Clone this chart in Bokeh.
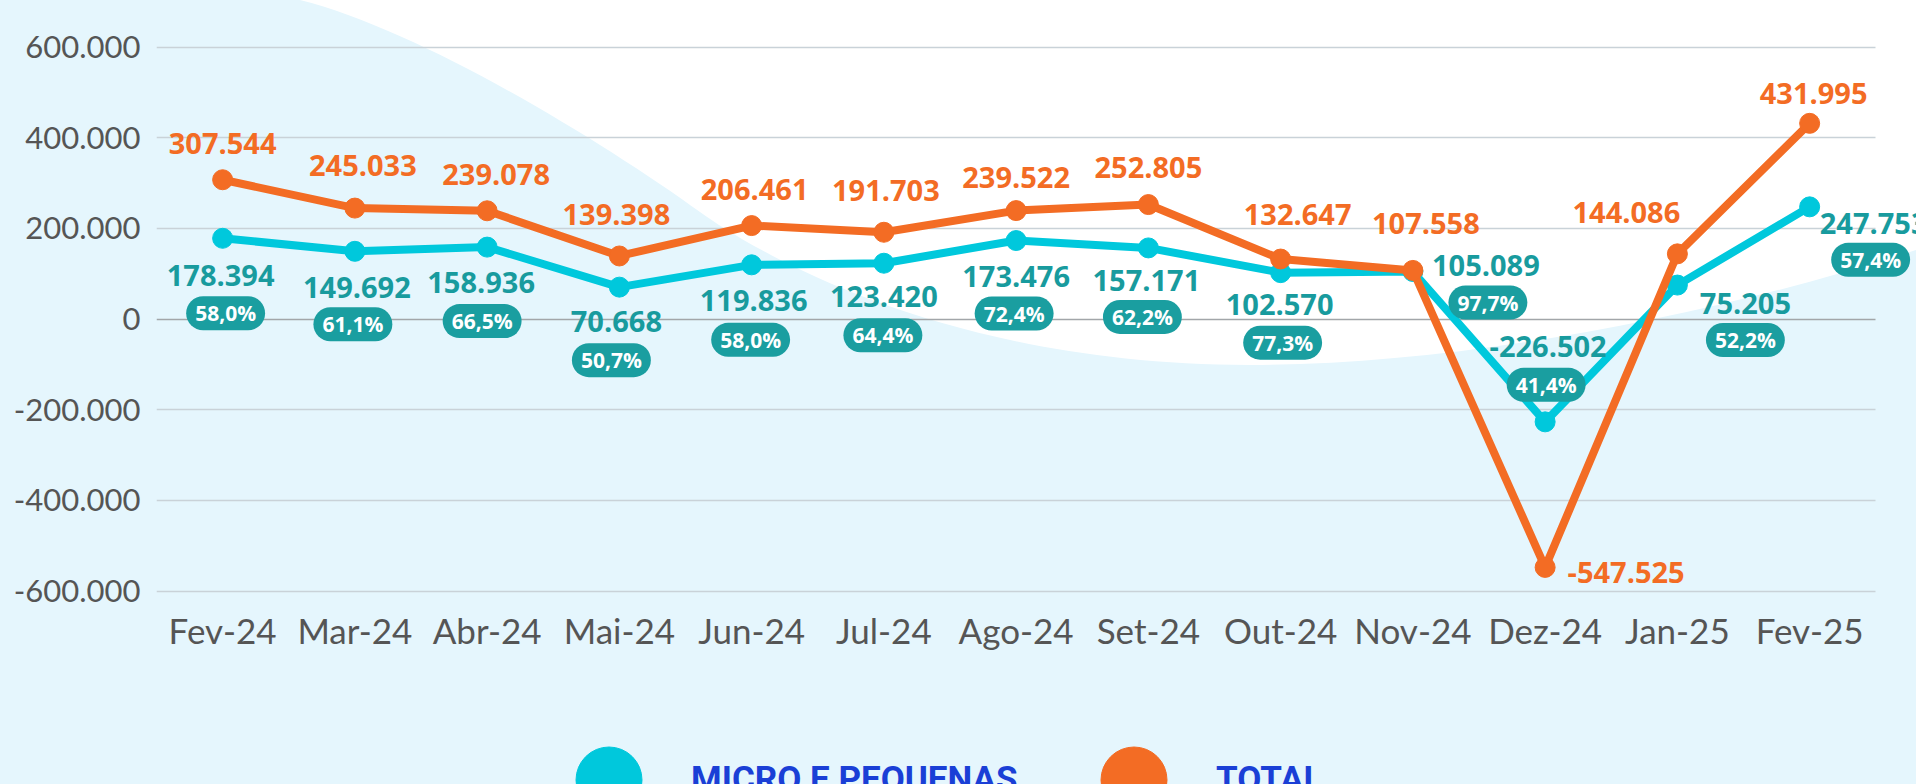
from urllib.parse import quote
from bokeh.plotting import figure
from bokeh.layouts import column
from bokeh.models import ColumnDataSource, Range1d, FixedTicker, Grid, Legend, LegendItem
from bokeh.core.properties import value
from bokeh.embed import file_html
from bokeh.resources import INLINE

# ---------------- data ----------------
months = ["Fev-24", "Mar-24", "Abr-24", "Mai-24", "Jun-24", "Jul-24", "Ago-24",
          "Set-24", "Out-24", "Nov-24", "Dez-24", "Jan-25", "Fev-25"]
total = [307544, 245033, 239078, 139398, 206461, 191703, 239522,
         252805, 132647, 107558, -547525, 144086, 431995]
micro = [178394, 149692, 158936, 70668, 119836, 123420, 173476,
         157171, 102570, 105089, -226502, 75205, 247753]
micro_share = [58.0, 61.1, 66.5, 50.7, 58.0, 64.4, 72.4, 62.2, 77.3, 97.7, 41.4, 52.2, 57.4]
y_ticks = [-600000, -400000, -200000, 0, 200000, 400000, 600000]
y_tick_labels = ["-600.000", "-400.000", "-200.000", "0", "200.000", "400.000", "600.000"]
series_names = ["MICRO E PEQUENAS", "TOTAL"]

# ---------------- label placement (screen px offsets) ----------------
total_dx = [0, 8, 9, -3, 3, 2, 0, 0, 17, 13, 81, -51, 4]
total_dy = [-36, -43, -36, -41, -36, -42, -33, -37, -45, -47, 5, -41, -30]
micro_dx = [-2, 2, -6, -3, 2, 0, 0, -2, -1, 73, 3, 68, 64]
micro_dy = [37, 36, 35, 34, 36, 33, 36, 33, 32, -6, -75, 18, 17]
share_dx = [3, -2, -5, -8, -1, -1, -2, -6, 2, 75, 1, 68, 61]
share_dy = [75, 73, 74, 73, 75, 72, 73, 69, 70, 31, -37, 55, 53]

ORANGE = "#F36C24"
CYAN = "#00C8DC"
TEAL = "#189B9E"
PILL = "#1A9EA0"
GRAY = "#555555"
BLUE = "#1A3FD6"
BG = "#E5F6FD"


def fmt_num(v):
    s = f"{abs(v):,}".replace(",", ".")
    return ("-" if v < 0 else "") + s


def fmt_pct(v):
    return f"{v:.1f}".replace(".", ",") + "%"


xs = list(range(len(months)))
src = ColumnDataSource(dict(
    x=xs, total=total, micro=micro,
    total_lbl=[fmt_num(v) for v in total],
    micro_lbl=[fmt_num(v) for v in micro],
    share_lbl=[fmt_pct(v) for v in micro_share],
    tdx=total_dx, tdy=total_dy, mdx=micro_dx, mdy=micro_dy, sdx=share_dx, sdy=share_dy,
))

p = figure(width=1916, height=700, output_backend="svg", toolbar_location=None,
           x_range=Range1d(-0.5, 12.808), y_range=Range1d(-631618, 650000),
           min_border_left=156, min_border_right=0, min_border_top=24, min_border_bottom=95,
           background_fill_color=None, border_fill_color=None, outline_line_color=None)

# axes
p.yaxis.ticker = FixedTicker(ticks=y_ticks)
p.yaxis.major_label_overrides = dict(zip(y_ticks, y_tick_labels))
p.yaxis.axis_line_color = None
p.yaxis.major_tick_line_color = None
p.yaxis.minor_tick_line_color = None
p.yaxis.major_tick_out = 0
p.yaxis.major_label_standoff = 16
p.yaxis.major_label_text_font = "Lato"
p.yaxis.major_label_text_font_size = "31px"
p.yaxis.major_label_text_color = GRAY

p.xaxis.ticker = FixedTicker(ticks=xs)
p.xaxis.major_label_overrides = {i: m for i, m in zip(xs, months)}
p.xaxis.axis_line_color = None
p.xaxis.major_tick_line_color = None
p.xaxis.minor_tick_line_color = None
p.xaxis.major_tick_out = 0
p.xaxis.major_label_standoff = 3
p.xaxis.major_label_text_font = "Lato"
p.xaxis.major_label_text_font_size = "35px"
p.xaxis.major_label_text_color = GRAY

# grids
p.xgrid.visible = False
p.ygrid.ticker = FixedTicker(ticks=[t for t in y_ticks if t != 0])
p.ygrid.grid_line_color = "#C9D2D8"
p.ygrid.grid_line_width = 1.5
p.ygrid.cross_bounds = (-0.5, 12.5)
zero_grid = Grid(dimension=1, ticker=FixedTicker(ticks=[0]), grid_line_color="#A2A6A9",
                 grid_line_width=1.5, cross_bounds=(-0.5, 12.5))
p.add_layout(zero_grid)

# series
p.line("x", "micro", source=src, line_color=CYAN, line_width=8)
p.scatter("x", "micro", source=src, size=20, fill_color=CYAN, line_color=CYAN)
p.line("x", "total", source=src, line_color=ORANGE, line_width=8)
p.scatter("x", "total", source=src, size=20, fill_color=ORANGE, line_color=ORANGE)

# labels
p.text("x", "total", text="total_lbl", source=src, x_offset="tdx", y_offset="tdy",
       text_font=value("Open Sans"), text_font_style="bold", text_font_size="29px",
       text_color=ORANGE, text_align="center", text_baseline="middle")
p.text("x", "micro", text="micro_lbl", source=src, x_offset="mdx", y_offset="mdy",
       text_font=value("Open Sans"), text_font_style="bold", text_font_size="29px",
       text_color=TEAL, text_align="center", text_baseline="middle")
p.text("x", "micro", text="share_lbl", source=src, x_offset="sdx", y_offset="sdy",
       text_font=value("Open Sans"), text_font_style="bold", text_font_size="21px",
       text_color="white", text_align="center", text_baseline="middle",
       background_fill_color=PILL, padding=(9, 3), border_radius=17)

# ---------------- legend strip ----------------
lf = figure(width=1916, height=84, output_backend="svg", toolbar_location=None,
            x_range=Range1d(0, 1), y_range=Range1d(0, 1), x_axis_type=None, y_axis_type=None,
            min_border=0, background_fill_color=None, border_fill_color=None,
            outline_line_color=None)
lf.grid.visible = False
for color, name, loc in [(CYAN, series_names[0], (370, -77.5)),
                         (ORANGE, series_names[1], (895, -77.5))]:
    # swatch renderer (kept outside the visible range; only its legend glyph is shown)
    rend = lf.scatter(x=[-1], y=[-1], size=20, fill_color=color, line_color=color)
    leg = Legend(items=[LegendItem(label=name, renderers=[rend])], location=loc,
                 orientation="horizontal", glyph_width=165, glyph_height=165,
                 label_standoff=0, padding=0, margin=0, spacing=0,
                 border_line_color=None, background_fill_alpha=0,
                 label_text_font="Roboto", label_text_font_style="bold",
                 label_text_font_size="35px", label_text_color=BLUE,
                 label_text_baseline="middle")
    lf.add_layout(leg)

# background: light blue with white wave
svg = ('<svg xmlns="http://www.w3.org/2000/svg" width="1916" height="784">'
       f'<rect width="1916" height="784" fill="{BG}"/>'
       '<path d="M300 0 C420 30 600 140 700 212 C760 255 950 365 1250 365 '
       'C1450 365 1700 320 1916 250 L1916 0 Z" fill="#FFFFFF"/></svg>')
layout = column(p, lf, spacing=0)
layout.styles = {"background-color": BG,
                 "background-image": f'url("data:image/svg+xml,{quote(svg)}")',
                 "background-repeat": "no-repeat"}

open("out.html", "w").write(file_html(layout, INLINE))
